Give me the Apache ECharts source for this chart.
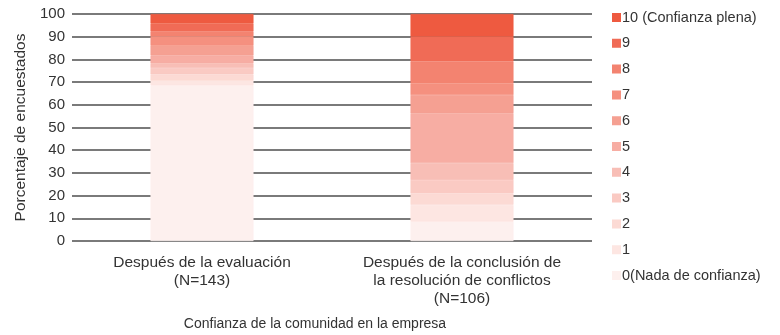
<!DOCTYPE html>
<html>
<head>
<meta charset="utf-8">
<script src="https://cdn.jsdelivr.net/npm/echarts@6/dist/echarts.min.js"></script>
<style>html,body{margin:0;padding:0;background:#fff}#c{width:780px;height:335px}</style>
</head>
<body>
<div id="c"></div>
<script>
const categories = ['Después de la evaluación\n(N=143)', 'Después de la conclusión de\nla resolución de conflictos\n(N=106)'];
const levelNames = ['0(Nada de confianza)', '1', '2', '3', '4', '5', '6', '7', '8', '9', '10 (Confianza plena)'];
const levelColors = ['#FDF0EE', '#FDE6E2', '#FCDAD4', '#FACAC3', '#F8BEB6', '#F7ADA3', '#F5A092', '#F5907F', '#F38370', '#F06B56', '#EE5A40'];
// percent of respondents per confidence level [evaluación, conclusión]
const level0 = [68.5, 8.5];
const level1 = [2.1, 7.4];
const level2 = [2.8, 5.1];
const level3 = [2.8, 5.9];
const level4 = [2.1, 7.4];
const level5 = [3.5, 22.0];
const level6 = [4.2, 8.0];
const level7 = [4.2, 5.2];
const level8 = [2.1, 9.5];
const level9 = [3.5, 11.0];
const level10 = [4.2, 10.0];
const yTicks = [0, 10, 20, 30, 40, 50, 60, 70, 80, 90, 100];

const levels = [level0, level1, level2, level3, level4, level5, level6, level7, level8, level9, level10];
const series = levels.map((vals, i) => ({
  name: levelNames[i],
  type: 'bar',
  stack: 'total',
  barWidth: 103,
  data: vals,
  itemStyle: { color: levelColors[i], borderColor: levelColors[i], borderWidth: 0.6 },
  emphasis: { disabled: true }
}));

const chart = echarts.init(document.getElementById('c'), null, { renderer: 'canvas' });
const font = 'Liberation Sans, Arial, sans-serif';
chart.setOption({
  animation: false,
  textStyle: { fontFamily: font },
  grid: { left: 72, right: 188, top: 14, bottom: 94, outerBoundsMode: 'none', containLabel: false },
  legend: {
    orient: 'vertical',
    left: 607,
    top: 5,
    itemWidth: 7,
    itemHeight: 7,
    itemGap: 10.8,
    icon: 'rect',
    data: levelNames.slice().reverse(),
    textStyle: { fontSize: 14.5, color: '#333', fontFamily: font, padding: [0, 0, 0, -3] }
  },
  xAxis: {
    type: 'category',
    data: categories,
    axisTick: { show: false },
    axisLine: { show: false },
    axisLabel: { fontSize: 15.5, color: '#333', lineHeight: 18, margin: 13, fontFamily: font },
    name: 'Confianza de la comunidad en la empresa',
    nameLocation: 'middle',
    nameGap: 76,
    nameTextStyle: { fontSize: 14, color: '#333', fontFamily: font, padding: [0, 34, 0, 0] }
  },
  yAxis: {
    type: 'value',
    min: yTicks[0],
    max: yTicks[yTicks.length - 1],
    interval: 10,
    axisLine: { show: false },
    axisTick: { show: false },
    axisLabel: { fontSize: 15, color: '#333', margin: 7, fontFamily: font },
    splitLine: { lineStyle: { color: '#7a7a7a', width: 2 } },
    name: 'Porcentaje de encuestados',
    nameLocation: 'middle',
    nameGap: 42,
    nameRotate: 90,
    nameTextStyle: { fontSize: 15.5, color: '#333', fontFamily: font }
  },
  series: series
});
</script>
</body>
</html>
